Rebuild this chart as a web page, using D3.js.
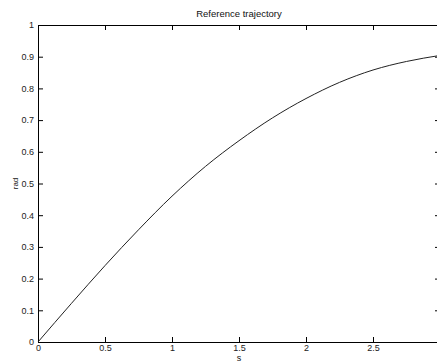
<!DOCTYPE html>
<html>
<head>
<meta charset="utf-8">
<script src="https://cdn.jsdelivr.net/npm/d3@7"></script>
<style>
  body { margin: 0; background: #fff; }
  svg { display: block; overflow: hidden; }
  text { font-family: "Liberation Sans", Arial, sans-serif; }
</style>
</head>
<body>
<script>
// path s (x) vs rad (y)
const sVals   = [0, 0.25, 0.5, 0.75, 1.0, 1.25, 1.5, 1.75, 2.0, 2.25, 2.5, 2.75, 3.0];
const radVals = [0, 0.122, 0.241, 0.354, 0.460, 0.554, 0.635, 0.707, 0.768, 0.819, 0.858, 0.885, 0.904];

// the s = 3 tick sits on the right border, outside the window
const xTicks = [0, 0.5, 1, 1.5, 2, 2.5];
const yTicks = [0, 0.1, 0.2, 0.3, 0.4, 0.5, 0.6, 0.7, 0.8, 0.9, 1];

const W = 437, H = 362;
const plotL = 38, plotR = 440, plotT = 25, plotB = 342;

const svg = d3.select("body").append("svg")
    .attr("width", W)
    .attr("height", H);

const x = d3.scaleLinear().domain([0, 3]).range([plotL, plotR]);
const y = d3.scaleLinear().domain([0, 1]).range([plotB, plotT]);

const fmt = d => String(d);

function style(g) {
  g.attr("font-size", 9).attr("font-family", null);
  g.select(".domain").attr("stroke", "#000");
  g.selectAll(".tick line").attr("stroke", "#000");
  g.selectAll(".tick text").attr("fill", "#222");
}

svg.append("g")
    .attr("transform", `translate(0,${plotB})`)
    .call(d3.axisBottom(x).tickValues(xTicks).tickFormat(fmt)
      .tickSizeInner(-5).tickSizeOuter(0).tickPadding(3))
    .call(style);

svg.append("g")
    .attr("transform", `translate(0,${plotT})`)
    .call(d3.axisTop(x).tickValues(xTicks).tickFormat("")
      .tickSizeInner(-5).tickSizeOuter(0))
    .call(style);

svg.append("g")
    .attr("transform", `translate(${plotL},0)`)
    .call(d3.axisLeft(y).tickValues(yTicks).tickFormat(fmt)
      .tickSizeInner(-5).tickSizeOuter(0).tickPadding(4))
    .call(style);

svg.append("g")
    .attr("transform", `translate(${plotR},0)`)
    .call(d3.axisRight(y).tickValues(yTicks).tickFormat("")
      .tickSizeInner(-5).tickSizeOuter(0))
    .call(style);

const line = d3.line()
    .x((d, i) => x(sVals[i]))
    .y(d => y(d))
    .curve(d3.curveMonotoneX);

svg.append("path")
    .datum(radVals)
    .attr("d", line)
    .attr("fill", "none")
    .attr("stroke", "#222")
    .attr("stroke-width", 1);

svg.append("text")
    .attr("x", (plotL + plotR) / 2)
    .attr("y", 17)
    .attr("text-anchor", "middle")
    .attr("font-size", 9.5)
    .attr("fill", "#111")
    .text("Reference trajectory");

svg.append("text")
    .attr("x", (plotL + plotR) / 2)
    .attr("y", 361)
    .attr("text-anchor", "middle")
    .attr("font-size", 9)
    .attr("fill", "#111")
    .text("s");

svg.append("text")
    .attr("transform", `translate(18,${(plotT + plotB) / 2}) rotate(-90)`)
    .attr("text-anchor", "middle")
    .attr("font-size", 8)
    .attr("fill", "#111")
    .text("rad");
</script>
</body>
</html>
